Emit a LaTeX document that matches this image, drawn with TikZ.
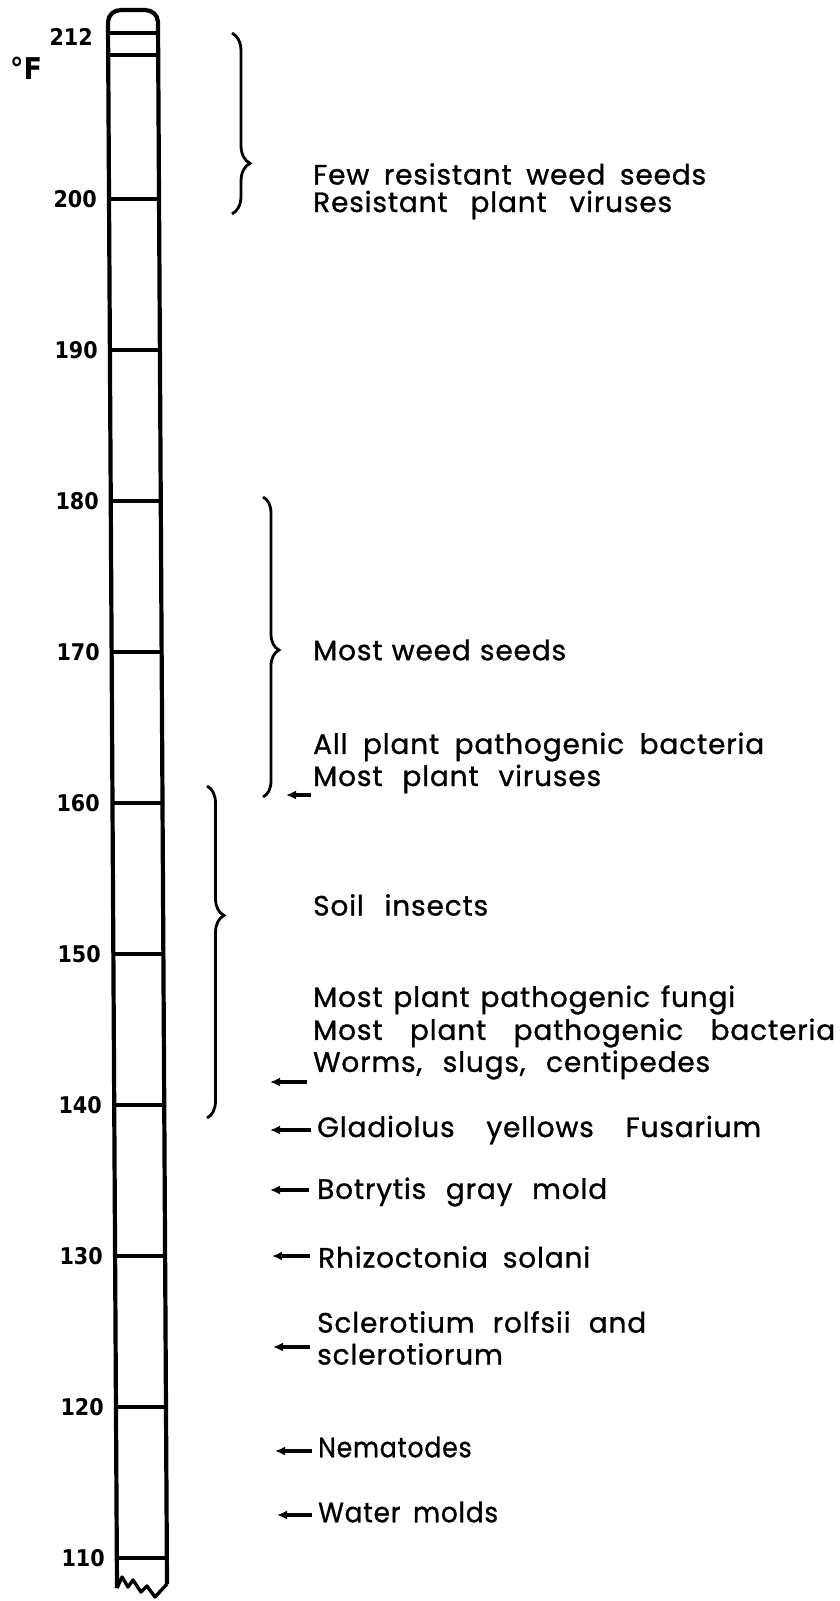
\documentclass[tikz,border=0pt]{standalone}
\usepackage{fontspec}
\setmainfont{Poppins}[FakeBold=1, LetterSpace=3, WordSpace=1.6]
\newfontfamily\numfont{DejaVu Sans}[FakeStretch=0.9]
\usetikzlibrary{decorations.pathreplacing,arrows.meta}

% spread a line of text to a given width
\newcommand{\spreadto}[2]{\makebox[#1][s]{#2}}

\tikzset{
  tube/.style={line width=3.4pt, line join=round},
  tlabel/.style={font=\numfont\bfseries\fontsize{23}{23}\selectfont, anchor=east, inner sep=0pt},
  lbl/.style={font=\fontsize{28}{32}\selectfont, anchor=west, inner sep=0pt},
  curly/.style={decorate, decoration={brace, amplitude=18pt}, line width=2.8pt},
  ptr/.style={-{Latex[length=10pt,width=9pt]}, line width=3.4pt},
}

\begin{document}
\begin{tikzpicture}[x=1pt, y=-1pt]
    \useasboundingbox (0,0) rectangle (839,1601);

    % thermometer tube, its lower end sits 9 units further right
    \coordinate (TopL) at (108,22);
    \coordinate (TopR) at (158,22);
    \coordinate (BotL) at (117,1588);
    \coordinate (BotR) at (167,1584);

    \draw[tube, line width=4.2pt] (BotL) -- (TopL) to[out=90,in=180] (121,10) -- (145,10)
        to[out=0,in=90] (TopR) -- (BotR);
    % broken bottom end
    \draw[tube] (BotL) -- (122,1577) -- (128,1587) -- (133,1580) -- (141,1592)
        -- (147,1586) -- (155,1597) -- (BotR);

    % boiling point lines
    \draw[tube] (108,33) -- (158,33);
    \draw[tube] (108,55) -- (158,55);

    % tick lines, 15.1 units per degree
    \coordinate (T200) at (109,199);
    \coordinate (T190) at (110,350);
    \coordinate (T180) at (111,501);
    \coordinate (T170) at (112,652);
    \coordinate (T160) at (112,803);
    \coordinate (T150) at (113,954);
    \coordinate (T140) at (114,1105);
    \coordinate (T130) at (115,1256);
    \coordinate (T120) at (116,1407);
    \coordinate (T110) at (117,1558);

    \draw[tube] (T200) -- ++(50,0);
    \draw[tube] (T190) -- ++(50,0);
    \draw[tube] (T180) -- ++(50,0);
    \draw[tube] (T170) -- ++(50,0);
    \draw[tube] (T160) -- ++(50,0);
    \draw[tube] (T150) -- ++(50,0);
    \draw[tube] (T140) -- ++(50,0);
    \draw[tube] (T130) -- ++(50,0);
    \draw[tube] (T120) -- ++(50,0);
    \draw[tube] (T110) -- ++(50,0);

    \node[tlabel] (L212) at (93,37) {212};
    \node[tlabel] (L200) at ([xshift=-12pt]T200) {200};
    \node[tlabel] (L190) at ([xshift=-12pt]T190) {190};
    \node[tlabel] (L180) at ([xshift=-12pt]T180) {180};
    \node[tlabel] (L170) at ([xshift=-12pt]T170) {170};
    \node[tlabel] (L160) at ([xshift=-12pt]T160) {160};
    \node[tlabel] (L150) at ([xshift=-12pt]T150) {150};
    \node[tlabel] (L140) at ([xshift=-12pt]T140) {140};
    \node[tlabel] (L130) at ([xshift=-12pt]T130) {130};
    \node[tlabel] (L120) at ([xshift=-12pt]T120) {120};
    \node[tlabel] (L110) at ([xshift=-12pt]T110) {110};

    \node[font=\numfont\bfseries\fontsize{30}{30}\selectfont, inner sep=0pt] (unit) at (26,68) {°F};

    % braces
    \draw[curly, decoration={aspect=0.72}] (232,33) -- (232,214);
    \draw[curly, decoration={aspect=0.51, amplitude=16pt}] (263,497) -- (263,797);
    \draw[curly, decoration={aspect=0.39, amplitude=17pt}] (207,786) -- (207,1118);

    % texts
    \node[lbl] (few) at (313,174) {\spreadto{393pt}{Few resistant weed seeds}};
    \node[lbl] (resist) at (313,205) {\spreadto{359pt}{Resistant plant viruses}};
    \node[lbl] (mostweed) at (313,650) {\spreadto{253pt}{Most weed seeds}};
    \node[lbl] (allbact) at (313,747) {\spreadto{451pt}{All plant pathogenic bacteria}};
    \node[lbl] (vir) at (313,779) {\spreadto{288pt}{Most plant viruses}};
    \node[lbl] (soil) at (313,905) {\spreadto{175pt}{Soil insects}};
    \node[lbl] (fungi) at (313,1000) {\spreadto{422pt}{Most plant pathogenic fungi}};
    \node[lbl] (bact) at (313,1033) {\spreadto{522pt}{Most plant pathogenic bacteria}};
    \node[lbl] (worms) at (313,1065) {\spreadto{397pt}{Worms, slugs, centipedes}};
    \node[lbl] (glad) at (317,1130) {\spreadto{444pt}{Gladiolus yellows Fusarium}};
    \node[lbl] (botry) at (317,1192) {\spreadto{290pt}{Botrytis gray mold}};
    \node[lbl] (rhizo) at (318,1257) {\spreadto{272pt}{Rhizoctonia solani}};
    \node[lbl] (sclA) at (317,1322) {\spreadto{329pt}{Sclerotium rolfsii and}};
    \node[lbl] (sclB) at (317,1354) {sclerotiorum};
    \node[lbl] (nema) at (318,1447) {\scalebox{0.9}[1]{Nematodes}};
    \node[lbl] (water) at (318,1512) {\scalebox{0.94}[1]{Water molds}};

    % arrow tips
    \coordinate (virTip) at (286,795);
    \coordinate (wormsTip) at (270,1082);
    \coordinate (gladTip) at (270,1130);
    \coordinate (botryTip) at (270,1190);
    \coordinate (rhizoTip) at (272,1256);
    \coordinate (sclTip) at (273,1347);
    \coordinate (nemaTip) at (275,1451);
    \coordinate (waterTip) at (277,1515);

    \draw[ptr, shorten <=2pt] (virTip -| vir.west) -- (virTip);
    \draw[ptr, shorten <=6pt] (wormsTip -| worms.west) -- (wormsTip);
    \draw[ptr, shorten <=6pt] (gladTip -| glad.west) -- (gladTip);
    \draw[ptr, shorten <=8pt] (botryTip -| botry.west) -- (botryTip);
    \draw[ptr, shorten <=8pt] (rhizoTip -| rhizo.west) -- (rhizoTip);
    \draw[ptr, shorten <=7pt] (sclTip -| sclB.west) -- (sclTip);
    \draw[ptr, shorten <=6pt] (nemaTip -| nema.west) -- (nemaTip);
    \draw[ptr, shorten <=6pt] (waterTip -| water.west) -- (waterTip);
\end{tikzpicture}
\end{document}
